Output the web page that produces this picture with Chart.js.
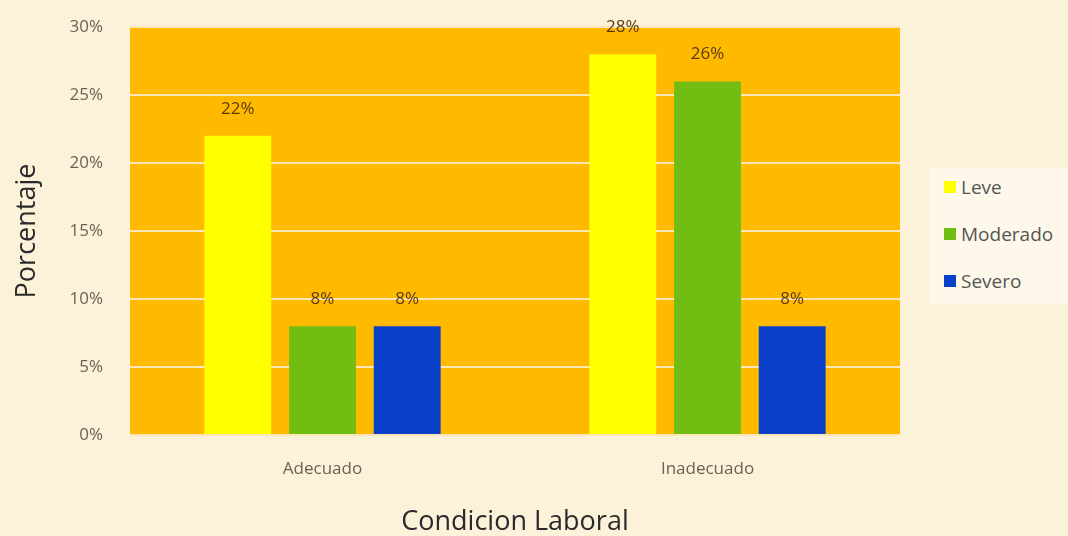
<!DOCTYPE html>
<html>
<head>
<meta charset="utf-8">
<script src="https://cdn.jsdelivr.net/npm/chart.js@4/dist/chart.umd.min.js"></script>
<style>
  html, body { margin: 0; padding: 0; background: #fcf2da; }
  #wrap { position: relative; width: 1068px; height: 536px; }
  #legend { position: absolute; left: 930px; top: 168px; width: 138px; height: 136px; background: #fdf8ea;
            font-family: "Open Sans", sans-serif; font-size: 19px; color: #555; }
  .item { position: absolute; left: 14px; display: flex; align-items: center; }
  .sw { width: 12px; height: 12px; margin-right: 5px; }
</style>
</head>
<body>
<div id="wrap">
  <canvas id="c" width="1068" height="536"></canvas>
  <div id="legend"></div>
</div>
<script>
// --- datos del gráfico ---
const CATEGORIAS = ['Adecuado', 'Inadecuado'];
const SERIES = ['Leve', 'Moderado', 'Severo'];
const LEVE = [22, 28];
const MODERADO = [8, 26];
const SEVERO = [8, 8];
const COLORES = ['#ffff00', '#72bd12', '#0a3fc9'];

// fondo naranja del área de trazado
const fondoPlot = {
  id: 'fondoPlot',
  beforeDraw(chart) {
    const { ctx, chartArea: a } = chart;
    ctx.save();
    ctx.fillStyle = '#ffba00';
    ctx.fillRect(a.left, a.top, a.right - a.left, a.bottom - a.top);
    ctx.restore();
  }
};

// etiquetas de valor encima de cada barra
const etiquetas = {
  id: 'etiquetas',
  afterDatasetsDraw(chart) {
    const ctx = chart.ctx;
    ctx.save();
    ctx.font = '17px "Open Sans", sans-serif';
    ctx.fillStyle = '#5a3a0c';
    ctx.textAlign = 'center';
    ctx.textBaseline = 'middle';
    chart.data.datasets.forEach((ds, i) => {
      chart.getDatasetMeta(i).data.forEach((bar, j) => {
        ctx.fillText(ds.data[j] + '%', bar.x, bar.y - 27);
      });
    });
    ctx.restore();
  }
};

const datos = [LEVE, MODERADO, SEVERO];

new Chart(document.getElementById('c'), {
  type: 'bar',
  data: {
    labels: CATEGORIAS,
    datasets: SERIES.map((s, i) => ({
      label: s,
      data: datos[i],
      backgroundColor: COLORES[i],
      categoryPercentage: 0.66,
      barPercentage: 0.79
    }))
  },
  options: {
    responsive: false,
    animation: false,
    layout: { padding: { top: 27, right: 168, left: 0, bottom: 0 } },
    plugins: { legend: { display: false }, tooltip: { enabled: false } },
    scales: {
      x: {
        grid: { display: false },
        border: { display: false },
        ticks: { color: '#6b6257', font: { family: 'Open Sans', size: 17 }, padding: 16 },
        title: { display: true, text: 'Condicion Laboral', color: '#2a2a2a',
                 font: { family: 'Open Sans', size: 27 }, padding: { top: 10, bottom: -3 } },
        afterFit(scale) { scale.height = 101; }
      },
      y: {
        min: 0, max: 30,
        grid: { color: '#fbe6b8', lineWidth: 2, drawTicks: true, tickLength: 23, tickColor: 'rgba(0,0,0,0)' },
        border: { display: false },
        ticks: { stepSize: 5, color: '#6b6257', font: { family: 'Open Sans', size: 17 }, padding: 4,
                 callback: v => v + '%' },
        title: { display: true, text: 'Porcentaje', color: '#2a2a2a',
                 font: { family: 'Open Sans', size: 27 }, padding: { top: 11, bottom: 0 } },
        afterFit(scale) { scale.width = 130; }
      }
    }
  },
  plugins: [fondoPlot, etiquetas]
});

// leyenda a la derecha
const leyenda = document.getElementById('legend');
SERIES.forEach((s, i) => {
  const it = document.createElement('div');
  it.className = 'item';
  it.style.top = (6 + i * 47) + 'px';
  it.innerHTML = '<span class="sw" style="background:' + COLORES[i] + '"></span>' + s;
  leyenda.appendChild(it);
});
</script>
</body>
</html>
